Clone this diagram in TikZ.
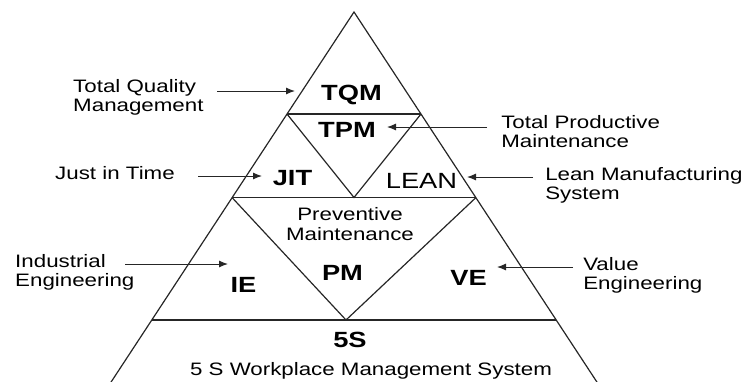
\documentclass[tikz,border=0pt]{standalone}
\usepackage{fontspec}
\setmainfont{Liberation Sans}
\usetikzlibrary{arrows.meta}
\tikzset{
  edge/.style={line width=1.2pt, draw=black!85, line join=miter},
  arr/.style={line width=1pt, draw=black!85, -{Latex[length=9pt,width=7pt]}},
  big/.style={inner sep=0pt, xscale=1.24, font=\fontsize{22}{22}\selectfont\bfseries, anchor=base},
  bigreg/.style={inner sep=0pt, xscale=1.24, font=\fontsize{22}{22}\selectfont, anchor=base},
  lbl/.style={inner sep=0pt, xscale=1.24, font=\fontsize{18}{19}\selectfont, align=left, anchor=north west},
  ctr/.style={inner sep=0pt, xscale=1.24, font=\fontsize{18}{20}\selectfont, align=center, anchor=north},
  one/.style={inner sep=0pt, xscale=1.24, font=\fontsize{18}{19}\selectfont, anchor=base},
}
\begin{document}
\begin{tikzpicture}[x=1pt,y=-1pt]
\useasboundingbox (0,0) rectangle (748,381);
\clip (0,0) rectangle (748,381);
% pyramid geometry
\coordinate (apex) at (354,12);
\coordinate (bl) at (96,405);
\coordinate (br) at (612,405);
\coordinate (l1) at (287,114);
\coordinate (r1) at (421,114);
\coordinate (l2) at (232,197.5);
\coordinate (r2) at (476,197.5);
\coordinate (l3) at (151.6,320);
\coordinate (r3) at (556.4,320);
\coordinate (v1) at (354,197.5);
\coordinate (v2) at (346,320);
\draw[edge] (bl) -- (apex) -- (br);
\draw[edge] (l1) -- (r1);
\draw[edge] (l2) -- (r2);
\draw[edge] (l3) -- (r3);
\draw[edge] (l1) -- (v1) -- (r1);
\draw[edge] (l2) -- (v2) -- (r2);
% inner labels
\node[big] (tqm) at (351.5,100) {TQM};
\node[big] (tpm) at (347,137) {TPM};
\node[big] (jit) at (292.5,185) {JIT};
\node[bigreg] (lean) at (421.5,188) {LEAN};
\node[ctr] (prev) at (350,207.5) {Preventive\\Maintenance};
\node[big] (pm) at (342.5,280) {PM};
\node[big] (ie) at (243.5,292) {IE};
\node[big] (ve) at (468.5,285) {VE};
\node[big] (fives) at (350,347) {5S};
\node[one] (fivesys) at (371,375) {5 S Workplace Management System};
% outer labels
\node[lbl] (tqml) at (73,79) {Total Quality\\Management};
\node[lbl] (jitl) at (55,166) {Just in Time};
\node[lbl] (iel) at (15,254) {Industrial\\Engineering};
\node[lbl] (tpml) at (501,115) {Total Productive\\Maintenance};
\node[lbl] (leanl) at (545,167) {Lean Manufacturing\\System};
\node[lbl] (vel) at (583,257) {Value\\Engineering};
% arrows
\coordinate (a1s) at (217,91);  \coordinate (a1e) at (295,91);
\coordinate (a2s) at (198,176); \coordinate (a2e) at (262,176);
\coordinate (a3s) at (125,264); \coordinate (a3e) at (228,264);
\coordinate (a4s) at (487,127); \coordinate (a4e) at (387,127);
\coordinate (a5s) at (533,177); \coordinate (a5e) at (467,177);
\coordinate (a6s) at (573,267); \coordinate (a6e) at (497,267);
\draw[arr] (a1s) -- (a1e);
\draw[arr] (a2s) -- (a2e);
\draw[arr] (a3s) -- (a3e);
\draw[arr] (a4s) -- (a4e);
\draw[arr] (a5s) -- (a5e);
\draw[arr] (a6s) -- (a6e);
\end{tikzpicture}
\end{document}
